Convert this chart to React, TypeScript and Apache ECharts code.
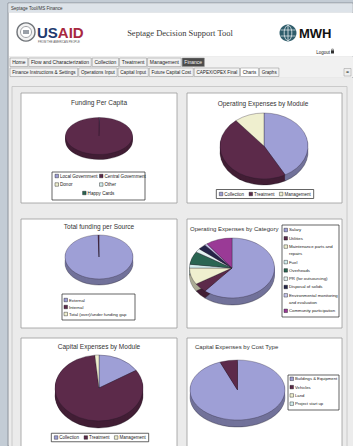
import React, { useEffect, useRef } from 'react';
import * as echarts from 'echarts';

// ---------- DATA ----------
const fundingPerCapitaNames = ['Local Government', 'Central Government', 'Donor', 'Other', 'Happy Cards'];
const fundingPerCapitaValues = [0.3, 99.7, 0, 0, 0];

const opexModuleNames = ['Collection', 'Treatment', 'Management'];
const opexModuleValues = [42, 47, 11];

const fundingSourceNames = ['External', 'Internal', 'Total (over)/under funding gap'];
const fundingSourceValues = [99.6, 0.4, 0];

const opexCategoryNames = [
  'Salary',
  'Utilities',
  'Maintenance parts and repairs',
  'Fuel',
  'Overheads',
  'PR (for outsourcing)',
  'Disposal of solids',
  'Environmental monitoring and evaluation',
  'Community participation',
];
const opexCategoryValues = [61, 5, 9, 2, 7, 2, 3, 1, 10];

const capexModuleNames = ['Collection', 'Treatment', 'Management'];
const capexModuleValues = [16, 82.5, 1.5];

const capexCostNames = ['Buildings & Equipment', 'Vehicles', 'Land', 'Project start up'];
const capexCostValues = [94, 6, 0, 0];

const chartTitles = [
  'Funding Per Capita',
  'Operating Expenses by Module',
  'Total funding per Source',
  'Operating Expenses by Category',
  'Capital Expenses by Module',
  'Capital Expenses by Cost Type',
];

const mainTabs = ['Home', 'Flow and Characterization', 'Collection', 'Treatment', 'Management', 'Finance'];
const subTabs = ['Finance Instructions & Settings', 'Operations Input', 'Capital Input', 'Future Capital Cost', 'CAPEX/OPEX Final', 'Charts', 'Graphs'];

const palette = ['#9e9fd6', '#5c2a4a', '#efefcf', '#d3eeee', '#2a6552', '#e4f3f3', '#242448', '#c6c6ec', '#9a3a96'];

// ---------- STYLE / LAYOUT ----------
const FONT = '"Liberation Sans", Arial, sans-serif';
const SERIF = '"Liberation Serif", "DejaVu Serif", serif';

const panels = [
  { x: 21, y: 93, w: 156, h: 110 },
  { x: 187, y: 93, w: 155, h: 110 },
  { x: 21, y: 219, w: 156, h: 109 },
  { x: 187, y: 219, w: 155, h: 109 },
  { x: 21, y: 338, w: 156, h: 120 },
  { x: 187, y: 338, w: 155, h: 120 },
];

const pieLayouts = [
  { cx: 99, cy: 136, rx: 33.5, ry: 18.5, depth: 5 },
  { cx: 264, cy: 146, rx: 44, ry: 33, depth: 6 },
  { cx: 99, cy: 257, rx: 34, ry: 22, depth: 6 },
  { cx: 232, cy: 268, rx: 42.5, ry: 30, depth: 7 },
  { cx: 99, cy: 388, rx: 44, ry: 33, depth: 7 },
  { cx: 237.5, cy: 390, rx: 47.5, ry: 30, depth: 7 },
];

const titleLayouts = [
  { x: 99, y: 102, align: 'center', fs: 6.5 },
  { x: 263, y: 103, align: 'center', fs: 6.5 },
  { x: 99, y: 226, align: 'center', fs: 6.5 },
  { x: 190, y: 229, align: 'left', fs: 6 },
  { x: 99, y: 346, align: 'center', fs: 6.5 },
  { x: 195, y: 347, align: 'left', fs: 6 },
];

function darken(hex: string, f: number) {
  const n = parseInt(hex.slice(1), 16);
  const r = Math.round(((n >> 16) & 255) * f);
  const g = Math.round(((n >> 8) & 255) * f);
  const b = Math.round((n & 255) * f);
  return `rgb(${r},${g},${b})`;
}

let measureCtx: CanvasRenderingContext2D | null = null;
function textWidth(s: string, fs: number) {
  if (!measureCtx) measureCtx = document.createElement('canvas').getContext('2d');
  if (!measureCtx) return s.length * fs * 0.5;
  measureCtx.font = `${fs}px "Liberation Sans"`;
  return measureCtx.measureText(s).width;
}
function wrapText(s: string, fs: number, maxW: number) {
  const words = s.split(' ');
  const lines: string[] = [];
  let cur = '';
  for (const w of words) {
    const t = cur ? cur + ' ' + w : w;
    if (cur && textWidth(t, fs) > maxW) {
      lines.push(cur);
      cur = w;
    } else cur = t;
  }
  if (cur) lines.push(cur);
  return lines;
}

function marker(x: number, y: number, s: number, color: string) {
  return {
    type: 'rect',
    shape: { x, y: y - s / 2, width: s, height: s },
    style: { fill: color, stroke: '#111', lineWidth: 0.4 },
  };
}
function ltext(x: number, y: number, text: string, fs: number) {
  return {
    type: 'text',
    x,
    y,
    style: { text, fontSize: fs, fontFamily: FONT, fill: '#222', verticalAlign: 'middle', align: 'left' },
  };
}
function box(x: number, y: number, w: number, h: number) {
  return { type: 'rect', shape: { x, y, width: w, height: h }, style: { fill: '#fff', stroke: '#222', lineWidth: 0.7 } };
}

function legendRow(names: string[], cx: number, cy: number, fs: number, bh: number) {
  const s = 3.5, gapT = 1.5, gapI = 5, pad = 3;
  const widths = names.map((n) => textWidth(n, fs));
  const content = widths.reduce((a, w) => a + s + gapT + w, 0) + gapI * (names.length - 1);
  const bw = content + pad * 2;
  const els: any[] = [box(cx - bw / 2, cy - bh / 2, bw, bh)];
  let x = cx - bw / 2 + pad;
  names.forEach((n, i) => {
    els.push(marker(x, cy, s, palette[i]));
    els.push(ltext(x + s + gapT, cy, n, fs));
    x += s + gapT + widths[i] + gapI;
  });
  return els;
}

function legendGrid(names: string[], bx: number, by: number, bw: number, bh: number, cols: number[], rowY: number[], fs: number) {
  const s = 3.5, gapT = 1.5;
  const els: any[] = [box(bx, by, bw, bh)];
  names.forEach((n, i) => {
    const r = Math.floor(i / 2);
    const lastOdd = i === names.length - 1 && names.length % 2 === 1;
    let x = cols[i % 2];
    if (lastOdd) {
      const w = s + gapT + textWidth(n, fs);
      x = bx + bw / 2 - w / 2;
    }
    els.push(marker(x, rowY[r], s, palette[i]));
    els.push(ltext(x + s + gapT, rowY[r], n, fs));
  });
  return els;
}

function legendCol(names: string[], bx: number, by: number, bw: number, bh: number, firstY: number, pitch: number, lineH: number, fs: number) {
  const s = 3.5, gapT = 1.5;
  const els: any[] = [box(bx, by, bw, bh)];
  let y = firstY;
  const mx = bx + 2;
  const tx = mx + s + gapT;
  const maxW = bx + bw - tx;
  names.forEach((n, i) => {
    const lines = wrapText(n, fs, maxW);
    els.push(marker(mx, y, s, palette[i]));
    els.push({
      type: 'text',
      x: tx,
      y: y - lineH / 2,
      style: { text: lines.join('\n'), fontSize: fs, fontFamily: FONT, fill: '#222', verticalAlign: 'top', align: 'left', lineHeight: lineH },
    });
    y += pitch + lineH * (lines.length - 1);
  });
  return els;
}

function tabRow(labels: string[], x0: number, y: number, h: number, fs: number, selected: number, selFill: string, selText: string, bg: string) {
  const els: any[] = [];
  let x = x0;
  const pad = 2.2;
  labels.forEach((l, i) => {
    const w = textWidth(l, fs) + pad * 2;
    const sel = i === selected;
    els.push({
      type: 'rect',
      shape: { x, y, width: w, height: h },
      style: { fill: sel ? selFill : bg, stroke: '#8a8a8a', lineWidth: 0.5 },
    });
    els.push({
      type: 'text',
      x: x + w / 2,
      y: y + h / 2,
      style: { text: l, fontSize: fs, fontFamily: FONT, fill: sel ? selText : '#222', align: 'center', verticalAlign: 'middle' },
    });
    x += w + 1;
  });
  return els;
}

function pieSeries(values: number[], layout: { cx: number; cy: number; rx: number; ry: number; depth: number }, name: string) {
  const total = values.reduce((a, b) => a + b, 0);
  const starts: number[] = [];
  values.reduce((acc, v, i) => {
    starts[i] = acc;
    return acc + v;
  }, 0);
  const k = layout.ry / layout.rx;
  return {
    type: 'custom',
    name,
    coordinateSystem: 'none',
    silent: true,
    data: values.map((v, i) => ({ value: [v], itemStyle: { color: palette[i] } })),
    renderItem: (params: any, api: any) => {
      const i = params.dataIndex;
      const v = api.value(0) as number;
      if (!v) return { type: 'group', children: [] };
      const a0 = -Math.PI / 2 + (2 * Math.PI * starts[i]) / total;
      const a1 = a0 + (2 * Math.PI * v) / total;
      const col = palette[i];
      const shape = { cx: 0, cy: 0, r: layout.rx, r0: 0, startAngle: a0, endAngle: a1, clockwise: true };
      const children: any[] = [];
      for (let j = layout.depth; j >= 1; j--) {
        children.push({
          type: 'sector',
          x: layout.cx,
          y: layout.cy + j,
          scaleY: k,
          z2: 1,
          shape,
          style: j === layout.depth
            ? { fill: darken(col, 0.68), stroke: 'rgba(20,15,25,0.6)', lineWidth: 0.6 }
            : { fill: darken(col, 0.72) },
        });
      }
      children.push({
        type: 'sector',
        x: layout.cx,
        y: layout.cy,
        scaleY: k,
        z2: 10,
        shape,
        style: { fill: col, stroke: 'rgba(30,20,35,0.7)', lineWidth: 0.5 },
      });
      return { type: 'group', children };
    },
  };
}

function buildOption() {
  const g: any[] = [];
  // window frame
  g.push({ type: 'rect', shape: { x: 8, y: 3, width: 345, height: 443 }, style: { fill: '#e9e9e9', stroke: '#8d949c', lineWidth: 1 } });
  g.push({ type: 'rect', shape: { x: 8.5, y: 3.5, width: 344, height: 9 }, style: { fill: '#dde3e9' } });
  g.push({ type: 'text', x: 11, y: 8, style: { text: 'Septage Tool/MS Finance', fontSize: 4.5, fontFamily: FONT, fill: '#333', verticalAlign: 'middle' } });
  // header
  g.push({ type: 'rect', shape: { x: 9, y: 13, width: 344, height: 43 }, style: { fill: '#ffffff' } });
  // USAID seal
  g.push({ type: 'circle', shape: { cx: 26, cy: 32, r: 9 }, style: { fill: '#f3f3f3', stroke: '#6f7378', lineWidth: 1.4 } });
  g.push({ type: 'circle', shape: { cx: 26, cy: 32, r: 5.5 }, style: { fill: '#ffffff', stroke: '#8a8d92', lineWidth: 0.8 } });
  g.push({ type: 'rect', shape: { x: 23, y: 30, width: 6, height: 4 }, style: { fill: '#9aa0a8' } });
  g.push({
    type: 'text', x: 37, y: 32,
    style: {
      text: '{a|US}{b|AID}', verticalAlign: 'middle', fontFamily: FONT,
      rich: {
        a: { fontSize: 15, fontWeight: 'bold', fill: '#1f3b6f', fontFamily: FONT },
        b: { fontSize: 15, fontWeight: 'bold', fill: '#a8283f', fontFamily: FONT },
      },
    },
  });
  g.push({ type: 'text', x: 38, y: 42, style: { text: 'FROM THE AMERICAN PEOPLE', fontSize: 2.8, fontFamily: FONT, fill: '#555', verticalAlign: 'middle' } });
  g.push({ type: 'text', x: 180, y: 33, style: { text: 'Septage Decision Support Tool', fontSize: 8.5, fontFamily: SERIF, fill: '#3a3a3a', align: 'center', verticalAlign: 'middle' } });
  // MWH globe
  g.push({ type: 'circle', shape: { cx: 288, cy: 33, r: 8.5 }, style: { fill: '#2f5d6b' } });
  g.push({ type: 'ellipse', shape: { cx: 288, cy: 33, rx: 3.8, ry: 7.5 }, style: { fill: 'none', stroke: '#e8eef0', lineWidth: 0.8 } });
  g.push({ type: 'line', shape: { x1: 288, y1: 25, x2: 288, y2: 41 }, style: { stroke: '#e8eef0', lineWidth: 0.8 } });
  g.push({ type: 'line', shape: { x1: 280.5, y1: 30, x2: 295.5, y2: 30 }, style: { stroke: '#e8eef0', lineWidth: 0.7 } });
  g.push({ type: 'line', shape: { x1: 280.5, y1: 36, x2: 295.5, y2: 36 }, style: { stroke: '#e8eef0', lineWidth: 0.7 } });
  g.push({ type: 'text', x: 299, y: 33, style: { text: 'MWH', fontSize: 13, fontWeight: 'bold', fontFamily: FONT, fill: '#111', verticalAlign: 'middle' } });
  g.push({ type: 'text', x: 330, y: 52, style: { text: 'Logout', fontSize: 4.5, fontFamily: FONT, fill: '#222', align: 'right', verticalAlign: 'middle' } });
  g.push({ type: 'rect', shape: { x: 331, y: 50.5, width: 3, height: 3 }, style: { fill: '#333' } });
  g.push({ type: 'rect', shape: { x: 331.7, y: 49, width: 1.6, height: 2 }, style: { fill: 'none', stroke: '#333', lineWidth: 0.5 } });
  // tabs
  g.push({ type: 'rect', shape: { x: 9, y: 56.5, width: 344, height: 20.5 }, style: { fill: '#f1f1f1' } });
  g.push(...tabRow(mainTabs, 10, 58, 8.5, 5, 5, '#4b4b4b', '#f2f2f2', '#f3f3f3'));
  g.push(...tabRow(subTabs, 10, 68, 8.5, 4.6, 5, '#ffffff', '#222', '#f3f3f3'));
  g.push({ type: 'rect', shape: { x: 344, y: 68.5, width: 7, height: 7.5 }, style: { fill: '#efefef', stroke: '#999', lineWidth: 0.5 } });
  g.push({ type: 'text', x: 347.5, y: 72.3, style: { text: '◂▸', fontSize: 3.5, fontFamily: '"DejaVu Sans", sans-serif', fill: '#333', align: 'center', verticalAlign: 'middle' } });
  // content area
  g.push({ type: 'rect', shape: { x: 9, y: 78, width: 344, height: 368 }, style: { fill: '#ececec' } });
  g.push({ type: 'rect', shape: { x: 12, y: 86.5, width: 335, height: 362 }, style: { fill: '#ebebeb', stroke: '#c2c2c2', lineWidth: 0.8 } });
  // panels
  panels.forEach((p) => {
    g.push({ type: 'rect', shape: { x: p.x, y: p.y, width: p.w, height: p.h }, style: { fill: '#ffffff', stroke: '#9a9a9a', lineWidth: 0.8 } });
  });
  // titles
  chartTitles.forEach((t, i) => {
    const L = titleLayouts[i];
    g.push({ type: 'text', x: L.x, y: L.y, style: { text: t, fontSize: L.fs, fontFamily: FONT, fill: '#333', align: L.align, verticalAlign: 'middle' } });
  });
  // legends
  g.push(...legendGrid(fundingPerCapitaNames, 52, 172, 93, 28, [55, 99.5], [176, 184.5, 193], 4.6));
  g.push(...legendRow(opexModuleNames, 265, 194, 4.5, 9));
  g.push(...legendCol(fundingSourceNames, 62, 294, 73, 26, 300, 7, 6, 4.3));
  g.push(...legendCol(opexCategoryNames, 282, 225, 57, 92, 230, 8.3, 7.2, 4.3));
  g.push(...legendRow(capexModuleNames, 100, 437.5, 4.5, 8.5));
  g.push(...legendCol(capexCostNames, 288, 375, 51, 35, 378.8, 8.3, 6, 4.2));

  const series = [
    pieSeries(fundingPerCapitaValues, pieLayouts[0], chartTitles[0]),
    pieSeries(opexModuleValues, pieLayouts[1], chartTitles[1]),
    pieSeries(fundingSourceValues, pieLayouts[2], chartTitles[2]),
    pieSeries(opexCategoryValues, pieLayouts[3], chartTitles[3]),
    pieSeries(capexModuleValues, pieLayouts[4], chartTitles[4]),
    pieSeries(capexCostValues, pieLayouts[5], chartTitles[5]),
  ];

  return {
    animation: false,
    backgroundColor: '#c3ccd5',
    graphic: { elements: g },
    series,
  };
}

export default function App() {
  const ref = useRef<HTMLDivElement>(null);
  useEffect(() => {
    if (!ref.current) return;
    const chart = echarts.init(ref.current, null, { renderer: 'svg' });
    chart.setOption(buildOption() as any);
    return () => chart.dispose();
  }, []);
  return <div ref={ref} style={{ position: 'fixed', left: 0, top: 0, width: 353, height: 446 }} />;
}
